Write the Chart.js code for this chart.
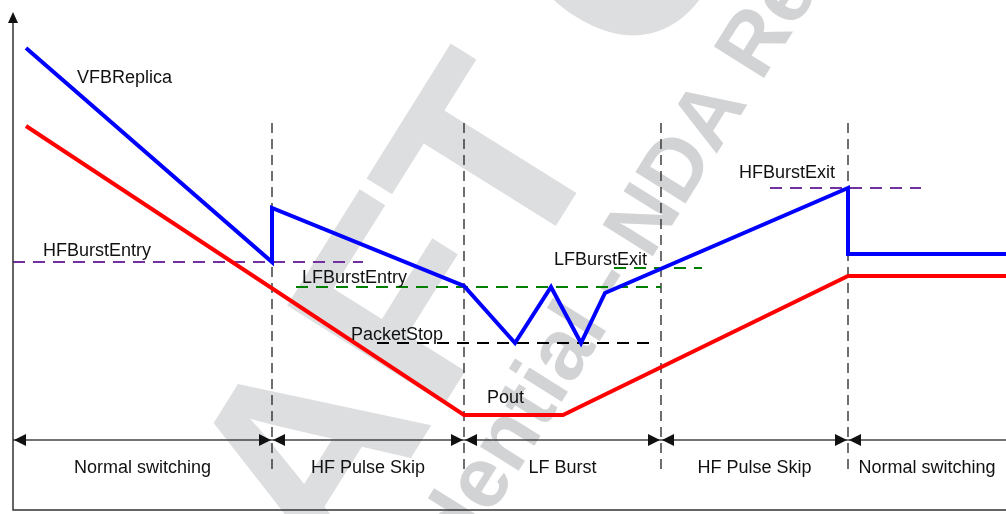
<!DOCTYPE html>
<html>
<head>
<meta charset="utf-8">
<script src="https://cdn.jsdelivr.net/npm/chart.js@4/dist/chart.umd.min.js"></script>
<style>
  html, body { margin: 0; padding: 0; background: #fff; }
  #wrap { width: 1006px; height: 514px; position: relative; }
</style>
</head>
<body>
<div id="wrap"><canvas id="myChart"></canvas></div>
<script>
// time axis (arbitrary units) and signal level (arbitrary units, up = higher)
const phaseBounds = [13, 272, 464, 661, 848, 1006];
const phaseNames = ['Normal switching', 'HF Pulse Skip', 'LF Burst', 'HF Pulse Skip', 'Normal switching'];

const vfbTime  = [26, 272, 272, 464, 515, 551, 581, 605, 848, 848, 1006];
const vfbLevel = [466, 252, 306, 228, 171, 227, 171, 221, 326, 260, 260];

const poutTime  = [26, 464, 563, 848, 1006];
const poutLevel = [388, 99, 99, 238, 238];

const thresholdNames  = ['HFBurstEntry', 'LFBurstEntry', 'LFBurstExit', 'PacketStop', 'HFBurstExit'];
const thresholdLevels = [252, 227, 246, 171, 326];
const thresholdFrom   = [13, 296, 614, 377, 770];
const thresholdTo     = [363, 661, 702, 656, 921];

// axis extents
const timeMax = 1006;
const levelMax = 514;
const axisTime = 13;
const axisLevel = 4;
const axisTop = 502;
const phaseArrowLevel = 74;
const phaseDashTop = 391;
const phaseDashBottom = 44;

// -----------------------------------------------------------------------------
const FONT = '18px "Liberation Sans", Arial, sans-serif';
const thresholdColors = ['#7030a0', '#008000', '#008000', '#000000', '#7030a0'];

// label anchors: [time, level] of text start (baseline)
const textLabels = [
  { text: 'VFBReplica', t: 77, l: 431 },
  { text: 'Pout', t: 487, l: 111 },
  { text: 'HFBurstEntry', t: 43, l: 258 },
  { text: 'LFBurstEntry', t: 302, l: 231 },
  { text: 'LFBurstExit', t: 554, l: 249 },
  { text: 'PacketStop', t: 351, l: 174 },
  { text: 'HFBurstExit', t: 739, l: 336 },
];

const pts = (xs, ys) => xs.map((x, i) => ({ x, y: ys[i] }));

const datasets = [];
datasets.push({ data: pts(vfbTime, vfbLevel), borderColor: '#0000ff', borderWidth: 4 });
datasets.push({ data: pts(poutTime, poutLevel), borderColor: '#ff0000', borderWidth: 4 });
thresholdNames.forEach((name, i) => {
  datasets.push({
    data: [{ x: thresholdFrom[i], y: thresholdLevels[i] }, { x: thresholdTo[i], y: thresholdLevels[i] }],
    borderColor: thresholdColors[i], borderWidth: 2, borderDash: [12, 8]
  });
});
phaseBounds.slice(1, -1).forEach(b => {
  datasets.push({
    data: [{ x: b, y: phaseDashTop }, { x: b, y: phaseDashBottom }],
    borderColor: '#222', borderWidth: 1.3, borderDash: [10, 6]
  });
});
datasets.push({
  data: [{ x: axisTime, y: phaseArrowLevel }, { x: timeMax, y: phaseArrowLevel }],
  borderColor: '#444', borderWidth: 1.5
});
datasets.forEach(d => {
  d.showLine = true; d.pointRadius = 0; d.fill = false; d.tension = 0; d.clip = false;
  d.borderJoinStyle = 'miter'; d.borderCapStyle = 'butt';
});

const watermark = {
  id: 'watermark',
  beforeDatasetsDraw(chart) {
    const ctx = chart.ctx;
    const ang = -58 * Math.PI / 180;
    ctx.save();
    ctx.font = 'bold 270px "Liberation Sans", Arial, sans-serif';
    ctx.fillStyle = 'rgb(221,222,224)';
    ctx.textBaseline = 'middle';
    ctx.translate(503, 170);
    ctx.rotate(ang);
    let off = ctx.measureText('DRAF').width + ctx.measureText('T').width / 2;
    ctx.fillText('DRAFT COPY', -off, 0);
    ctx.restore();

    ctx.save();
    ctx.font = 'bold 86px "Liberation Sans", Arial, sans-serif';
    ctx.fillStyle = 'rgb(210,211,213)';
    ctx.textBaseline = 'middle';
    ctx.translate(646, 222);
    ctx.rotate(ang);
    off = ctx.measureText('Confidential - ').width + ctx.measureText('N').width / 2;
    ctx.fillText('Confidential - NDA Required', -off, 0);
    ctx.restore();
  }
};

const annotations = {
  id: 'annotations',
  afterDatasetsDraw(chart) {
    const ctx = chart.ctx;
    const xs = chart.scales.x, ys = chart.scales.y;
    const X = v => xs.getPixelForValue(v), Y = v => ys.getPixelForValue(v);

    ctx.save();
    // axes
    ctx.strokeStyle = '#333';
    ctx.fillStyle = '#111';
    ctx.lineWidth = 1.5;
    ctx.beginPath();
    ctx.moveTo(X(axisTime), Y(axisTop) + 8);
    ctx.lineTo(X(axisTime), Y(axisLevel));
    ctx.lineTo(X(timeMax), Y(axisLevel));
    ctx.stroke();
    ctx.beginPath();
    ctx.moveTo(X(axisTime), Y(axisTop));
    ctx.lineTo(X(axisTime) - 5, Y(axisTop) + 11);
    ctx.lineTo(X(axisTime) + 5, Y(axisTop) + 11);
    ctx.closePath();
    ctx.fill();

    // phase arrowheads
    const ay = Y(phaseArrowLevel);
    const head = (tip, dir) => {
      ctx.beginPath();
      ctx.moveTo(tip, ay);
      ctx.lineTo(tip - dir * 12, ay - 6);
      ctx.lineTo(tip - dir * 12, ay + 6);
      ctx.closePath();
      ctx.fill();
    };
    phaseBounds.forEach((b, i) => {
      const px = X(b);
      if (i > 0 && i < phaseBounds.length - 1) head(px - 1, 1);
      if (i < phaseBounds.length - 1) head(px + 1, -1);
    });

    // texts
    ctx.font = FONT;
    ctx.fillStyle = '#111';
    ctx.textBaseline = 'alphabetic';
    ctx.textAlign = 'left';
    textLabels.forEach(lb => ctx.fillText(lb.text, X(lb.t), Y(lb.l)));
    ctx.textAlign = 'center';
    phaseNames.forEach((name, i) => {
      ctx.fillText(name, (X(phaseBounds[i]) + X(phaseBounds[i + 1])) / 2, ay + 33);
    });
    ctx.restore();
  }
};

new Chart(document.getElementById('myChart').getContext('2d'), {
  type: 'scatter',
  data: { datasets },
  options: {
    responsive: true,
    maintainAspectRatio: false,
    animation: false,
    layout: { padding: 0 },
    scales: {
      x: { type: 'linear', min: 0, max: timeMax, display: false },
      y: { type: 'linear', min: 0, max: levelMax, display: false }
    },
    plugins: { legend: { display: false }, tooltip: { enabled: false } }
  },
  plugins: [watermark, annotations]
});
</script>
</body>
</html>
